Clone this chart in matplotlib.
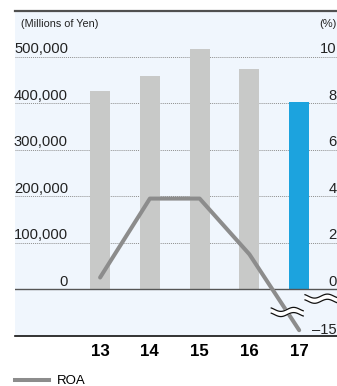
import numpy as np
import matplotlib
matplotlib.use("Agg")
import matplotlib.pyplot as plt
import matplotlib.transforms as mtransforms
from matplotlib import font_manager
from matplotlib.lines import Line2D

# fiscal years, total assets (millions of yen) and ROA (%)
years = ["13", "14", "15", "16", "17"]
assets = [427000, 459000, 517000, 474000, 403000]
roa = [0.5, 3.9, 3.9, 1.5, -15.0]
asset_ticks = [0, 100000, 200000, 300000, 400000, 500000]
roa_ticks = [0, 2, 4, 6, 8, 10, -15]

GRAY_BAR = "#c8c9c8"
BLUE_BAR = "#1ca3de"
LINE_COL = "#8c8c8c"
BG = "#f0f6fd"

# condensed face if the system has it
try:
    font_manager.findfont("Liberation Sans Narrow", fallback_to_default=False)
    narrow = "Liberation Sans Narrow"
except ValueError:
    narrow = "Liberation Sans"
plt.rcParams["font.family"] = ["Liberation Sans", "DejaVu Sans"]

fig = plt.figure(figsize=(3.37, 3.86), dpi=100)
W, H = 337, 386
ax = fig.add_axes([15 / W, 50 / H, 322 / W, 325 / H])
ax.set_facecolor(BG)

x = np.arange(len(years))
colors = [GRAY_BAR] * (len(years) - 1) + [BLUE_BAR]
ax.bar(x, assets, width=0.40, color=colors, zorder=2)
ax.set_xlim(-1.71, 4.76)
ax.set_ylim(-101000, 599000)

for v in asset_ticks[1:]:
    ax.axhline(v, color="#8f8f8f", lw=0.7, ls=(0, (1, 1)), zorder=1)
ax.axhline(0, color="#555555", lw=1.0, zorder=3)

for s in ["left", "right"]:
    ax.spines[s].set_visible(False)
ax.spines["top"].set_color("#505050")
ax.spines["top"].set_linewidth(1.6)
ax.spines["bottom"].set_color("#111111")
ax.spines["bottom"].set_linewidth(1.2)

ax.set_yticks([])
ax.set_xticks(x)
ax.set_xticklabels(years, fontsize=12.2, fontweight="bold")
ax.tick_params(axis="x", length=0, pad=6)

up = mtransforms.ScaledTranslation(0, 3.5 / 100, fig.dpi_scale_trans)
left_tr = mtransforms.blended_transform_factory(ax.transAxes, ax.transData) + up
for v in asset_ticks:
    ax.text(53 / 322, v, f"{v:,}", transform=left_tr, ha="right", va="baseline",
            fontsize=10.6, color="#222222")
ax.text(6 / 322, 1 - 8 / 325, "(Millions of Yen)", transform=ax.transAxes,
        ha="left", va="top", fontsize=7.8, family=narrow, color="#222222")

# ROA on its own axis, squeezed below zero
k = 0.118


def fwd(v):
    v = np.asarray(v, dtype=float)
    return np.where(v >= 0, v, v * k)


def inv(u):
    u = np.asarray(u, dtype=float)
    return np.where(u >= 0, u, u / k)


ax2 = ax.twinx()
ax2.set_yscale("function", functions=(fwd, inv))
ax2.set_ylim(inv(-2.02), 11.98)
ax2.set_yticks([])
for s in ax2.spines.values():
    s.set_visible(False)
ax2.plot(x, roa, color=LINE_COL, lw=2.9, solid_capstyle="round", zorder=4)

right_tr = mtransforms.blended_transform_factory(ax2.transAxes, ax2.transData)
for v in roa_ticks:
    label = f"{v}".replace("-", "\u2013")
    if v < 0:
        ax2.text(0.998, v, label, transform=right_tr, ha="right", va="center",
                 fontsize=10.6, color="#222222")
    else:
        ax2.text(0.998, v, label, transform=right_tr + up, ha="right",
                 va="baseline", fontsize=10.6, color="#222222")
ax2.text(0.998, 1 - 8 / 325, "(%)", transform=ax2.transAxes, ha="right",
         va="top", fontsize=8.0, family=narrow, color="#222222")


def wave(cx, cy, width=32):
    # axis-break squiggle in display pixels
    t = np.linspace(-width / 2, width / 2, 80)
    y = 2.0 * np.sin(2 * np.pi * t / (width * 0.8))
    ident = mtransforms.IdentityTransform()
    ax2.plot(cx + t, cy + y, color="white", lw=4.5, transform=ident,
             zorder=6, solid_capstyle="butt", clip_on=False)
    for off in (-2.6, 2.6):
        ax2.plot(cx + t, cy + y + off, color="#111111", lw=0.9,
                 transform=ident, zorder=7, clip_on=False)


fig.canvas.draw()
p16 = ax2.transData.transform((x[3], roa[3]))
p17 = ax2.transData.transform((x[4], roa[4]))
pb = p16 + 0.76 * (p17 - p16)
wave(pb[0], pb[1])
pr = ax2.transData.transform((x[4], -3.5))
wave(ax2.transAxes.transform((1, 0))[0] - 16, pr[1])

handle = Line2D([], [], color=LINE_COL, lw=2.9)
fig.legend([handle], ["ROA"], loc="center left",
           bbox_to_anchor=(15 / W, 5 / H), borderaxespad=0, borderpad=0,
           frameon=False, handlelength=2.6, handletextpad=0.55,
           prop={"family": narrow, "size": 9.5})

fig.savefig("out.png", dpi=100)
